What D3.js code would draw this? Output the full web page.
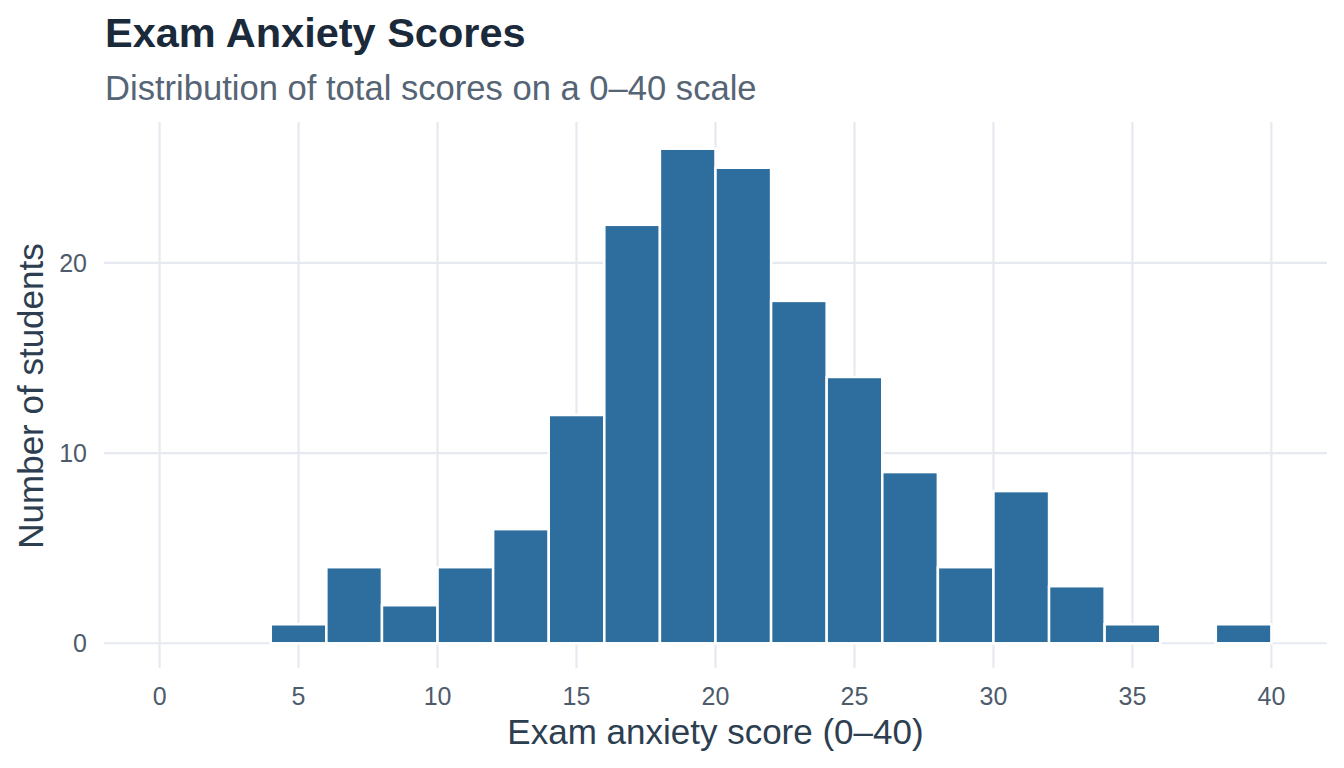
<!DOCTYPE html>
<html>
<head>
<meta charset="utf-8">
<script src="https://cdn.jsdelivr.net/npm/d3@7"></script>
<style>
  body { margin: 0; background: #ffffff; }
  svg { display: block; font-family: "Liberation Sans", Arial, sans-serif; }
</style>
</head>
<body>
<svg id="chart" width="1344" height="768"></svg>
<script>
// Histogram bins (width 2) and counts
const binStarts = [0, 2, 4, 6, 8, 10, 12, 14, 16, 18, 20, 22, 24, 26, 28, 30, 32, 34, 36, 38];
const counts = [0, 0, 1, 4, 2, 4, 6, 12, 22, 26, 25, 18, 14, 9, 4, 8, 3, 1, 0, 1];
const binWidth = 2;
const xTicks = [0, 5, 10, 15, 20, 25, 30, 35, 40];
const yTicks = [0, 10, 20];

const svg = d3.select('#chart');

// Panel box (ggplot style with 5% expansion on both axes)
const panel = { left: 104, right: 1327, top: 124, bottom: 668 };

const x = d3.scaleLinear().domain([-2, 42]).range([panel.left, panel.right]);
const y = d3.scaleLinear().domain([-1.3, 27.3]).range([panel.bottom, panel.top]);

const gridColor = '#e6eaf0';

// Major gridlines
svg.append('g')
  .selectAll('line')
  .data(yTicks)
  .join('line')
  .attr('x1', panel.left).attr('x2', panel.right)
  .attr('y1', (d) => y(d)).attr('y2', (d) => y(d))
  .attr('stroke', gridColor).attr('stroke-width', 2.2);

svg.append('g')
  .selectAll('line')
  .data(xTicks)
  .join('line')
  .attr('x1', (d) => x(d)).attr('x2', (d) => x(d))
  .attr('y1', panel.top - 2).attr('y2', panel.bottom)
  .attr('stroke', gridColor).attr('stroke-width', 2.2);

// Bars (zero bins too, their white outline shows over the baseline)
const bins = binStarts.map((b, i) => ({ x0: b, x1: b + binWidth, n: counts[i] }));

svg.append('g')
  .selectAll('rect')
  .data(bins)
  .join('rect')
  .attr('x', (d) => x(d.x0))
  .attr('width', (d) => x(d.x1) - x(d.x0))
  .attr('y', (d) => y(d.n))
  .attr('height', (d) => y(0) - y(d.n))
  .attr('fill', '#2e6e9e')
  .attr('stroke', '#ffffff')
  .attr('stroke-width', 2.5);

// Tick labels
svg.append('g')
  .selectAll('text')
  .data(xTicks)
  .join('text')
  .attr('x', (d) => x(d))
  .attr('y', 705)
  .attr('text-anchor', 'middle')
  .attr('font-size', 25)
  .attr('fill', '#4d5b6b')
  .text((d) => d);

svg.append('g')
  .selectAll('text')
  .data(yTicks)
  .join('text')
  .attr('x', 87)
  .attr('y', (d) => y(d))
  .attr('dy', '0.36em')
  .attr('text-anchor', 'end')
  .attr('font-size', 25)
  .attr('fill', '#4d5b6b')
  .text((d) => d);

// Axis titles
svg.append('text')
  .attr('x', (panel.left + panel.right) / 2)
  .attr('y', 744)
  .attr('text-anchor', 'middle')
  .attr('font-size', 35)
  .attr('fill', '#2d3e50')
  .text('Exam anxiety score (0–40)');

svg.append('text')
  .attr('transform', `translate(43,${(panel.top + panel.bottom) / 2}) rotate(-90)`)
  .attr('text-anchor', 'middle')
  .attr('font-size', 35)
  .attr('fill', '#2d3e50')
  .text('Number of students');

// Title and subtitle
svg.append('text')
  .attr('x', 105)
  .attr('y', 47)
  .attr('font-size', 41.5)
  .attr('font-weight', 'bold')
  .attr('fill', '#1b2a3a')
  .text('Exam Anxiety Scores');

svg.append('text')
  .attr('x', 105)
  .attr('y', 100)
  .attr('font-size', 34.6)
  .attr('fill', '#566575')
  .text('Distribution of total scores on a 0–40 scale');
</script>
</body>
</html>
